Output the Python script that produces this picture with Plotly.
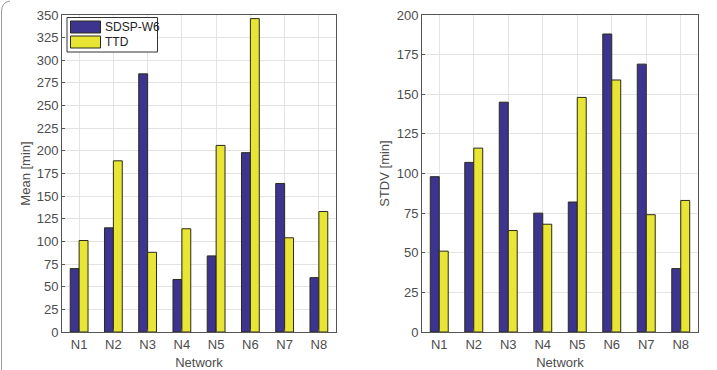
import plotly.graph_objects as go

networks = ["N1", "N2", "N3", "N4", "N5", "N6", "N7", "N8"]
mean_sdsp = [70, 115, 285, 58, 84, 198, 164, 60]
mean_ttd = [101, 189, 88, 114, 206, 346, 104, 133]
stdv_sdsp = [98, 107, 145, 75, 82, 188, 169, 40]
stdv_ttd = [51, 116, 64, 68, 148, 159, 74, 83]
mean_ticks = list(range(0, 351, 25))
stdv_ticks = list(range(0, 201, 25))
series_names = ["SDSP-W6", "TTD"]

BLUE = "#3d3490"
YELLOW = "#e8e535"
EDGE = "#2a2a1a"
W, H = 717, 370

fig = go.Figure()
xs = list(range(1, 9))
fig.add_bar(x=xs, y=mean_sdsp, name=series_names[0], marker=dict(color=BLUE, line=dict(color=EDGE, width=1)), xaxis="x", yaxis="y")
fig.add_bar(x=xs, y=mean_ttd, name=series_names[1], marker=dict(color=YELLOW, line=dict(color=EDGE, width=1)), xaxis="x", yaxis="y")
fig.add_bar(x=xs, y=stdv_sdsp, name=series_names[0], marker=dict(color=BLUE, line=dict(color=EDGE, width=1)), xaxis="x2", yaxis="y2")
fig.add_bar(x=xs, y=stdv_ttd, name=series_names[1], marker=dict(color=YELLOW, line=dict(color=EDGE, width=1)), xaxis="x2", yaxis="y2")

font_c = "#4d4d4d"
common_x = dict(range=[0.5, 8.5], tickvals=xs, ticktext=networks, showgrid=True, gridcolor="#e3e3e3",
                showline=True, linecolor="#555555", linewidth=1, mirror=True, ticks="inside", ticklen=3,
                tickcolor="#555555", tickfont=dict(size=13, color=font_c), zeroline=False, automargin=False,
                title=dict(text="Network", font=dict(size=13, color=font_c), standoff=9))
common_y = dict(showgrid=True, gridcolor="#e3e3e3", showline=True, linecolor="#555555", linewidth=1,
                mirror=True, ticks="inside", ticklen=3, tickcolor="#555555", automargin=False,
                tickfont=dict(size=13, color=font_c), zeroline=False)

ydom = [1 - 332 / H, 1 - 15 / H]
fig.update_layout(
    width=W, height=H, margin=dict(l=0, r=0, t=0, b=0),
    paper_bgcolor="white", plot_bgcolor="white",
    font=dict(family="Liberation Sans, Arial, sans-serif", color=font_c),
    barmode="group", bargap=0.48, bargroupgap=0,
    xaxis=dict(domain=[62 / W, 336 / W], anchor="y", **common_x),
    xaxis2=dict(domain=[422 / W, 698 / W], anchor="y2", **common_x),
    yaxis=dict(domain=ydom, anchor="x", range=[0, 350], tickvals=mean_ticks,
               title=dict(text="Mean [min]", font=dict(size=13, color=font_c), standoff=3), **common_y),
    yaxis2=dict(domain=ydom, anchor="x2", range=[0, 200], tickvals=stdv_ticks,
                title=dict(text="STDV [min]", font=dict(size=13, color=font_c), standoff=4), **common_y),
    showlegend=False,
)

# legend box drawn like MATLAB's (wide colour patches)
def px(x):
    return x / W

def py(y):
    return 1 - y / H

fig.add_shape(type="rect", xref="paper", yref="paper", x0=px(67), x1=px(157.5), y0=py(52), y1=py(17.5),
              fillcolor="white", line=dict(color="#333333", width=1), layer="above")
for i, (name, col) in enumerate(zip(series_names, [BLUE, YELLOW])):
    yc = 27 + i * 15
    fig.add_shape(type="rect", xref="paper", yref="paper", x0=px(70.5), x1=px(100.5), y0=py(yc + 6), y1=py(yc - 6),
                  fillcolor=col, line=dict(color=EDGE, width=1), layer="above")
    fig.add_annotation(xref="paper", yref="paper", x=px(103), y=py(yc), text=name, showarrow=False,
                       xanchor="left", yanchor="middle", font=dict(size=12, color="#222222"))

# outer frame edge visible in the reference (left edge line)
fig.add_shape(type="path", xref="paper", yref="paper",
              path=f"M {px(1.5)} 0 L {px(1.5)} {py(12)} Q {px(1.5)} {py(2)} {px(10)} {py(1)}",
              line=dict(color="#9a9a9a", width=1))

fig.write_html("out.html")
